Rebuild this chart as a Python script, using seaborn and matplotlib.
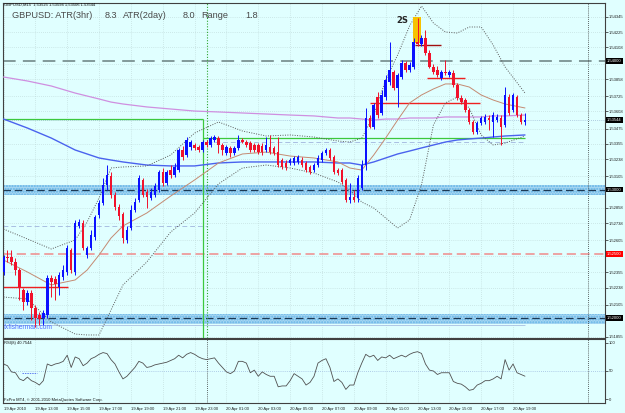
import numpy as np
import pandas as pd
import matplotlib.pyplot as plt
import seaborn as sns

sns.set_style("white")
plt.rcParams['font.family'] = ['Liberation Sans', 'DejaVu Sans']

# ---- GBPUSD M15, 19 Apr 11:00 .. 20 Apr 19:45 ----
open_ = [1.52359, 1.52476, 1.52476, 1.52437, 1.52374, 1.52219, 1.52125, 1.52195, 1.52079, 1.52024,
         1.52001, 1.52024, 1.52312, 1.52304, 1.52242, 1.52320, 1.52359, 1.52530, 1.52359, 1.52717,
         1.52740, 1.52491, 1.52546, 1.52631, 1.52802, 1.52896, 1.53036, 1.53106, 1.52958, 1.52865,
         1.52810, 1.52608, 1.52701, 1.52841, 1.52919, 1.53075, 1.52981, 1.52935, 1.52958, 1.52997,
         1.53137, 1.53051, 1.53152, 1.53114, 1.53152, 1.53308, 1.53269, 1.53331, 1.53347, 1.53331,
         1.53308, 1.53370, 1.53347, 1.53386, 1.53401, 1.53347, 1.53285, 1.53324, 1.53285, 1.53324,
         1.53386, 1.53370, 1.53362, 1.53347, 1.53347, 1.53339, 1.53308, 1.53331, 1.53324, 1.53292,
         1.53230, 1.53207, 1.53207, 1.53207, 1.53215, 1.53230, 1.53207, 1.53176, 1.53152, 1.53191,
         1.53230, 1.53285, 1.53308, 1.53254, 1.53152, 1.53152, 1.53075, 1.52919, 1.52942, 1.52935,
         1.53012, 1.53191, 1.53557, 1.53487, 1.53720, 1.53596, 1.53720, 1.53837, 1.53915, 1.53790,
         1.53876, 1.53985, 1.53930, 1.53954, 1.54148, 1.54133, 1.54179, 1.54063, 1.53954, 1.53930,
         1.53868, 1.53915, 1.53892, 1.53907, 1.53814, 1.53713, 1.53697, 1.53619, 1.53526, 1.53448,
         1.53518, 1.53526, 1.53557, 1.53526, 1.53541, 1.53557, 1.53503, 1.53720, 1.53619, 1.53720,
         1.53580, 1.53525]
high = [1.52491, 1.52530, 1.52530, 1.52468, 1.52390, 1.52234, 1.52219, 1.52219, 1.52102, 1.52048,
        1.52063, 1.52336, 1.52336, 1.52328, 1.52359, 1.52413, 1.52569, 1.52546, 1.52763, 1.52771,
        1.52763, 1.52561, 1.52686, 1.52802, 1.52919, 1.53090, 1.53191, 1.53137, 1.52981, 1.52888,
        1.52826, 1.52717, 1.52880, 1.52935, 1.53114, 1.53090, 1.53005, 1.53012, 1.53051, 1.53152,
        1.53168, 1.53152, 1.53191, 1.53207, 1.53324, 1.53339, 1.53409, 1.53386, 1.53362, 1.53347,
        1.53386, 1.53386, 1.53417, 1.53425, 1.53417, 1.53362, 1.53347, 1.53339, 1.53339, 1.53425,
        1.53401, 1.53386, 1.53378, 1.53362, 1.53362, 1.53362, 1.53409, 1.53425, 1.53339, 1.53409,
        1.53246, 1.53230, 1.53246, 1.53261, 1.53269, 1.53254, 1.53222, 1.53191, 1.53207, 1.53269,
        1.53300, 1.53324, 1.53324, 1.53269, 1.53168, 1.53168, 1.53090, 1.53051, 1.52997, 1.53114,
        1.53230, 1.53635, 1.53580, 1.53674, 1.53759, 1.53775, 1.53892, 1.54148, 1.53930, 1.53907,
        1.54008, 1.54000, 1.53993, 1.54179, 1.54335, 1.54203, 1.54242, 1.54086, 1.53977, 1.53962,
        1.53930, 1.54008, 1.53930, 1.53930, 1.53829, 1.53736, 1.53713, 1.53635, 1.53541, 1.53534,
        1.53573, 1.53588, 1.53580, 1.53604, 1.53588, 1.53580, 1.53798, 1.53744, 1.53751, 1.53736,
        1.53596, 1.53594]
low = [1.52336, 1.52437, 1.52413, 1.52336, 1.52141, 1.52063, 1.52102, 1.51985, 1.51931, 1.51947,
       1.51947, 1.52001, 1.52164, 1.52141, 1.52180, 1.52297, 1.52336, 1.52351, 1.52336, 1.52701,
       1.52530, 1.52468, 1.52530, 1.52608, 1.52779, 1.52880, 1.52997, 1.52935, 1.52841, 1.52763,
       1.52584, 1.52584, 1.52686, 1.52826, 1.52903, 1.52942, 1.52857, 1.52919, 1.52942, 1.52981,
       1.53028, 1.53036, 1.53090, 1.53098, 1.53137, 1.53230, 1.53254, 1.53308, 1.53308, 1.53292,
       1.53292, 1.53331, 1.53331, 1.53370, 1.53285, 1.53269, 1.53269, 1.53254, 1.53269, 1.53308,
       1.53362, 1.53331, 1.53292, 1.53292, 1.53277, 1.53269, 1.53292, 1.53277, 1.53269, 1.53176,
       1.53160, 1.53152, 1.53191, 1.53191, 1.53199, 1.53176, 1.53137, 1.53121, 1.53137, 1.53176,
       1.53215, 1.53269, 1.53230, 1.53121, 1.53114, 1.53044, 1.52903, 1.52896, 1.52903, 1.52903,
       1.52997, 1.53152, 1.53479, 1.53471, 1.53557, 1.53580, 1.53697, 1.53814, 1.53775, 1.53643,
       1.53860, 1.53915, 1.53915, 1.53938, 1.54117, 1.54117, 1.54047, 1.53946, 1.53899, 1.53876,
       1.53853, 1.53892, 1.53876, 1.53798, 1.53697, 1.53666, 1.53604, 1.53510, 1.53432, 1.53432,
       1.53503, 1.53510, 1.53464, 1.53409, 1.53526, 1.53347, 1.53487, 1.53580, 1.53604, 1.53565,
       1.53510, 1.53506]
close = [1.52476, 1.52468, 1.52437, 1.52374, 1.52234, 1.52125, 1.52195, 1.52079, 1.52001, 1.51993,
         1.52040, 1.52312, 1.52281, 1.52265, 1.52336, 1.52374, 1.52546, 1.52374, 1.52740, 1.52748,
         1.52546, 1.52546, 1.52647, 1.52787, 1.52896, 1.53036, 1.53114, 1.52958, 1.52865, 1.52795,
         1.52623, 1.52686, 1.52841, 1.52903, 1.53090, 1.52958, 1.52942, 1.52981, 1.53028, 1.53137,
         1.53051, 1.53137, 1.53114, 1.53176, 1.53308, 1.53254, 1.53386, 1.53370, 1.53324, 1.53308,
         1.53370, 1.53347, 1.53401, 1.53409, 1.53347, 1.53308, 1.53331, 1.53285, 1.53324, 1.53386,
         1.53370, 1.53347, 1.53308, 1.53308, 1.53292, 1.53292, 1.53347, 1.53292, 1.53285, 1.53191,
         1.53176, 1.53176, 1.53230, 1.53246, 1.53254, 1.53191, 1.53152, 1.53137, 1.53191, 1.53246,
         1.53285, 1.53308, 1.53246, 1.53137, 1.53129, 1.53059, 1.52919, 1.52942, 1.52919, 1.53090,
         1.53191, 1.53557, 1.53487, 1.53658, 1.53580, 1.53736, 1.53853, 1.53930, 1.53790, 1.53892,
         1.53985, 1.53930, 1.53969, 1.54148, 1.54133, 1.54179, 1.54063, 1.53954, 1.53915, 1.53892,
         1.53915, 1.53907, 1.53915, 1.53814, 1.53713, 1.53681, 1.53619, 1.53526, 1.53448, 1.53518,
         1.53557, 1.53565, 1.53541, 1.53580, 1.53565, 1.53487, 1.53736, 1.53596, 1.53736, 1.53580,
         1.53526, 1.53544]

# indicator lines at these bars
ind_bars = [0, 6, 12, 18, 21, 24, 27, 30, 36, 42, 48, 54, 60, 66, 72, 78,
            84, 87, 90, 93, 96, 99, 102, 105, 108, 111, 114, 117, 120, 123, 126, 131]
ma_purple = [1.53876, 1.53845, 1.53806, 1.53751, 1.53728, 1.53705, 1.53681, 1.53666, 1.53643, 1.53627,
             1.53611, 1.53604, 1.53596, 1.53588, 1.53580, 1.53573, 1.53557, 1.53557, 1.53549, 1.53541,
             1.53549, 1.53549, 1.53557, 1.53557, 1.53557, 1.53565, 1.53565, 1.53565, 1.53565, 1.53573,
             1.53573, 1.53580]
ma_blue = [1.53549, 1.53479, 1.53401, 1.53308, 1.53277, 1.53246, 1.53230, 1.53215, 1.53191, 1.53184,
           1.53184, 1.53207, 1.53215, 1.53215, 1.53215, 1.53215, 1.53207, 1.53207, 1.53191, 1.53215,
           1.53246, 1.53277, 1.53300, 1.53324, 1.53347, 1.53370, 1.53386, 1.53394, 1.53401, 1.53409,
           1.53417, 1.53425]
bb_upper = [1.52693, 1.52616, 1.52538, 1.52608, 1.52748, 1.52935, 1.53168, 1.53176, 1.53184, 1.53269,
            1.53440, 1.53526, 1.53456, 1.53417, 1.53425, 1.53409, 1.53378, 1.53370, 1.53401, 1.53580,
            1.53853, 1.54047, 1.54273, 1.54428, 1.54296, 1.54226, 1.54218, 1.54265, 1.54265, 1.54125,
            1.53954, 1.53751]
bb_mid = [1.52452, 1.52359, 1.52258, 1.52297, 1.52374, 1.52491, 1.52623, 1.52717, 1.52818, 1.52950,
          1.53075, 1.53207, 1.53277, 1.53292, 1.53261, 1.53246, 1.53215, 1.53168, 1.53152, 1.53269,
          1.53401, 1.53541, 1.53674, 1.53736, 1.53783, 1.53822, 1.53822, 1.53798, 1.53736, 1.53697,
          1.53666, 1.53635]
bb_lower = [1.52164, 1.52149, 1.51970, 1.51876, 1.51869, 1.51869, 1.52063, 1.52258, 1.52437, 1.52670,
            1.52818, 1.53044, 1.53168, 1.53191, 1.53168, 1.53129, 1.53059, 1.52997, 1.52903, 1.52857,
            1.52779, 1.52701, 1.52763, 1.53036, 1.53503, 1.53674, 1.53720, 1.53635, 1.53425, 1.53347,
            1.53362, 1.53417]

rsi8 = [62.5, 59.4, 48.4, 46.9, 35.9, 32.8, 39.1, 32.8, 29.7, 25.0,
        32.8, 62.5, 59.4, 62.5, 64.1, 67.2, 78.1, 56.3, 75.0, 71.9,
        59.4, 64.1, 71.9, 75.0, 79.7, 82.8, 81.0, 70.3, 62.5, 48.4,
        35.9, 40.6, 48.4, 56.3, 67.2, 64.1, 56.3, 57.8, 60.9, 62.5,
        64.1, 65.6, 68.8, 71.9, 78.1, 73.4, 79.7, 82.8, 79.7, 75.0,
        71.9, 70.3, 71.9, 73.4, 64.1, 56.3, 48.4, 45.3, 50.0, 67.2,
        67.2, 64.1, 46.9, 51.6, 40.6, 48.4, 43.8, 40.6, 40.6, 21.9,
        23.4, 23.4, 32.8, 45.3, 40.6, 35.9, 25.0, 29.7, 40.6, 64.1,
        68.8, 71.9, 56.3, 31.3, 35.9, 29.7, 17.2, 25.0, 25.0, 46.9,
        64.1, 79.7, 75.0, 78.1, 68.8, 75.0, 73.4, 78.1, 71.9, 75.0,
        78.1, 75.0, 79.7, 82.8, 84.4, 81.3, 62.5, 51.6, 50.0, 43.8,
        46.9, 46.9, 46.9, 31.3, 28.1, 26.6, 21.9, 15.6, 17.2, 25.0,
        28.1, 32.8, 32.8, 35.9, 40.6, 35.9, 70.3, 51.6, 62.5, 46.9,
        43.8, 40.75]

# price scale labels (the ones hidden behind the level boxes are left out)
price_ticks = [1.54345, 1.54225, 1.54108, 1.53858, 1.53725, 1.53608, 1.53475, 1.53355, 1.53238,
               1.53105, 1.52858, 1.52738, 1.52605, 1.52355, 1.52238, 1.52105, 1.51855]
grid_prices = [1.54345, 1.54225, 1.54108, 1.53978, 1.53858, 1.53725, 1.53608, 1.53475, 1.53355,
               1.53238, 1.53105, 1.52985, 1.52858, 1.52738, 1.52605, 1.52485, 1.52355, 1.52238,
               1.52105, 1.51985, 1.51855]
time_ticks = [0, 8, 16, 24, 32, 40, 48, 56, 64, 72, 80, 88, 96, 104, 112, 120, 128]
time_labels = ["19 Apr 2010", "19 Apr 13:00", "19 Apr 15:00", "19 Apr 17:00", "19 Apr 19:00",
               "19 Apr 21:00", "19 Apr 23:00", "20 Apr 01:00", "20 Apr 03:00", "20 Apr 05:00",
               "20 Apr 07:00", "20 Apr 09:00", "20 Apr 11:00", "20 Apr 13:00", "20 Apr 15:00",
               "20 Apr 17:00", "20 Apr 19:00"]
box_levels = [1.54000, 1.53544, 1.53000, 1.52500, 1.52000]
box_colors = ['black', 'black', 'black', '#ff0000', 'black']

df = pd.DataFrame({'bar': np.arange(len(close)), 'open': open_, 'high': high,
                   'low': low, 'close': close})
up = df['close'] >= df['open']
BLUE, RED = '#0a10ff', '#f0122c'
BG = '#e0ffff'
GREEN = '#3cc83c'
W, H = 625, 413

fig = plt.figure(figsize=(W / 100, H / 100), dpi=100, facecolor=BG)
ax = fig.add_axes([3 / W, 1 - 338 / H, 602 / W, 335 / H])
ax2 = fig.add_axes([3 / W, 1 - 403 / H, 602 / W, 64 / H], sharex=ax)
for a in (ax, ax2):
    a.set_facecolor(BG)
    for s in a.spines.values():
        s.set_color('#404040')
        s.set_linewidth(0.8)

xmin, xmax = -0.13, 151.1
ax.set_xlim(xmin, xmax)
ax.set_ylim(1.518454, 1.544517)
ax2.set_ylim(-7, 107)

# faint dotted grid
for p in grid_prices:
    ax.axhline(p, color='#b9d3d3', lw=0.5, ls=(0, (1, 2)), zorder=0.5)
for t in time_ticks:
    for a in (ax, ax2):
        a.axvline(t, color='#b9d3d3', lw=0.5, ls=(0, (1, 2)), zorder=0.5)

# support / resistance zones
for lvl in (1.53000, 1.52000):
    ax.axhspan(lvl - 0.00042, lvl + 0.00036, facecolor='#a6d6f2', edgecolor='#62b4e6',
               hatch='......', lw=0, zorder=1)
    ax.axhline(lvl, color='#1d3a55', lw=0.9, dashes=(6, 3), zorder=2)
ax.axhline(1.54000, color='#7b9292', lw=1.3, dashes=(7, 4), zorder=2)
ax.axhline(1.52500, color='#f08a8a', lw=1.1, dashes=(6, 3), zorder=2)
ax.axhline(1.53544, color='#9fbcd6', lw=0.6, ls=(0, (1, 1.5)), zorder=2)

# previous-day levels
dash = (0, (5, 3))
ax.hlines(1.52717, xmin, 51, color='#a9bfe2', lw=0.7, linestyles=[dash], zorder=2)
ax.hlines(1.53370, 51, 131, color='#a9bfe2', lw=0.7, linestyles=[dash], zorder=2)
ax.hlines(1.51947, xmin, 131, color='#a9bfe2', lw=0.6, zorder=2)
ax.hlines(1.53549, 0.1, 50.1, color=GREEN, lw=0.9, zorder=2)
ax.hlines(1.53401, 50.1, 131, color=GREEN, lw=0.9, zorder=2)
ax.vlines(50.1, 1.518454, 1.53549, color=GREEN, lw=0.9, zorder=2)
ax.axvline(51.1, color='#2ea52e', lw=0.8, ls=(0, (1, 1.5)), zorder=2)
ax2.axvline(51.1, color='#333333', lw=0.6, ls=(0, (1, 1.5)))
for a in (ax, ax2):
    a.axvline(146.9, color='#333333', lw=0.6, ls=(0, (1, 1.5)))

# red swing lines
ax.hlines(1.52242, xmin, 16.2, color='#ee2020', lw=1.0, zorder=2.2)
ax.hlines(1.53674, 92.1, 119.7, color='#ee2020', lw=1.0, zorder=2.2)
ax.hlines(1.53868, 106.4, 116.0, color='#ee2020', lw=1.0, zorder=2.2)
ax.hlines(1.54125, 103.4, 110.0, color='#a01010', lw=1.0, zorder=2.2)

# moving averages and bollinger bands
sns.lineplot(x=ind_bars, y=ma_purple, ax=ax, color='#cf8fe0', lw=0.9, zorder=3)
sns.lineplot(x=ind_bars, y=ma_blue, ax=ax, color='#4a62ee', lw=1.0, zorder=3)
sns.lineplot(x=ind_bars, y=bb_mid, ax=ax, color='#c48a72', lw=0.7, zorder=3)
for band in (bb_upper, bb_lower):
    sns.lineplot(x=ind_bars, y=band, ax=ax, color='#5a5a5a', lw=0.7, ls=(0, (1, 1.5)), zorder=3)

# highlighted spike bar
ax.fill_between([102.9, 104.9], 1.54140, 1.54343, color='#f6c200', lw=0, zorder=3.5)
ax.text(100.1, 1.54312, '2S', fontsize=6, fontweight='bold', ha='center', va='center',
        family=['DejaVu Sans'], zorder=5)

# candles
cols = np.where(up, BLUE, RED)
ax.vlines(df['bar'], df['low'], df['high'], colors=cols, lw=0.7, zorder=4)
body = (df['close'] - df['open']).abs().clip(lower=0.00004)
ax.bar(df['bar'], body, bottom=np.minimum(df['open'], df['close']), width=0.62,
       color=cols, lw=0, zorder=4.5)

# price axis
ax.yaxis.tick_right()
ax.set_yticks(price_ticks)
ax.set_yticklabels([f'{p:.5f}' for p in price_ticks], fontsize=3)
ax.tick_params(axis='y', length=2, width=0.5, pad=1, colors='#202020')
ax.tick_params(axis='x', bottom=False, labelbottom=False)
for lvl, c in zip(box_levels, box_colors):
    ax.text(1.0035, lvl, f'{lvl:.5f}', transform=ax.get_yaxis_transform(), fontsize=3,
            color='white', ha='left', va='center', clip_on=False, zorder=10,
            bbox=dict(boxstyle='square,pad=0.2', fc=c, ec='none'))

# RSI panel
ax2.axhline(50, color='#9fbce0', lw=0.6, ls=(0, (1, 1.5)))
ax2.hlines(47, 4.6, 8.4, color='#5f7cf0', lw=0.7, linestyles=[(0, (1.5, 1))])
sns.lineplot(x=df['bar'], y=rsi8, ax=ax2, color='#505050', lw=0.6)
ax2.set_ylabel('')
ax2.yaxis.tick_right()
ax2.set_yticks([0, 50, 100])
ax2.set_yticklabels(['0', '50', '100'], fontsize=3)
ax2.tick_params(axis='y', length=2, width=0.5, pad=1, colors='#202020')
ax2.set_xticks(time_ticks)
ax2.set_xticklabels(time_labels, fontsize=3, ha='left')
ax2.tick_params(axis='x', length=2, width=0.5, pad=1.2, colors='#202020')
ax.set_ylabel('')
ax.set_xlabel('')
ax2.set_xlabel('')

# texts
def fx(px):
    return px / W

def fy(py):
    return 1 - py / H

fig.text(fx(4), fy(4.5), 'GBPUSD,M15  1.53525 1.53594 1.53506 1.53544', fontsize=3,
         va='center', color='#101010')
for txt, px in [('GBPUSD: ATR(3hr)', 12), ('8.3', 105), ('ATR(2day)', 123),
                ('8.0', 183), ('Range', 201), ('1.8', 245)]:
    fig.text(fx(px), fy(16), txt, fontsize=6.6, va='center', color='#4a4a4a')
fig.text(fx(4), fy(327.5), 'fxfisherman.com', fontsize=4.8, va='center', color='#4a6cff')
fig.text(fx(4), fy(343), 'RSI(8) 40.7544', fontsize=3, va='center', color='#101010')
fig.text(fx(4), fy(399.5), 'FxPro MT4, \u00a9 2001-2010 MetaQuotes Software Corp.', fontsize=3,
         va='center', color='#101010')

fig.savefig('out.png', dpi=100, facecolor=BG)
